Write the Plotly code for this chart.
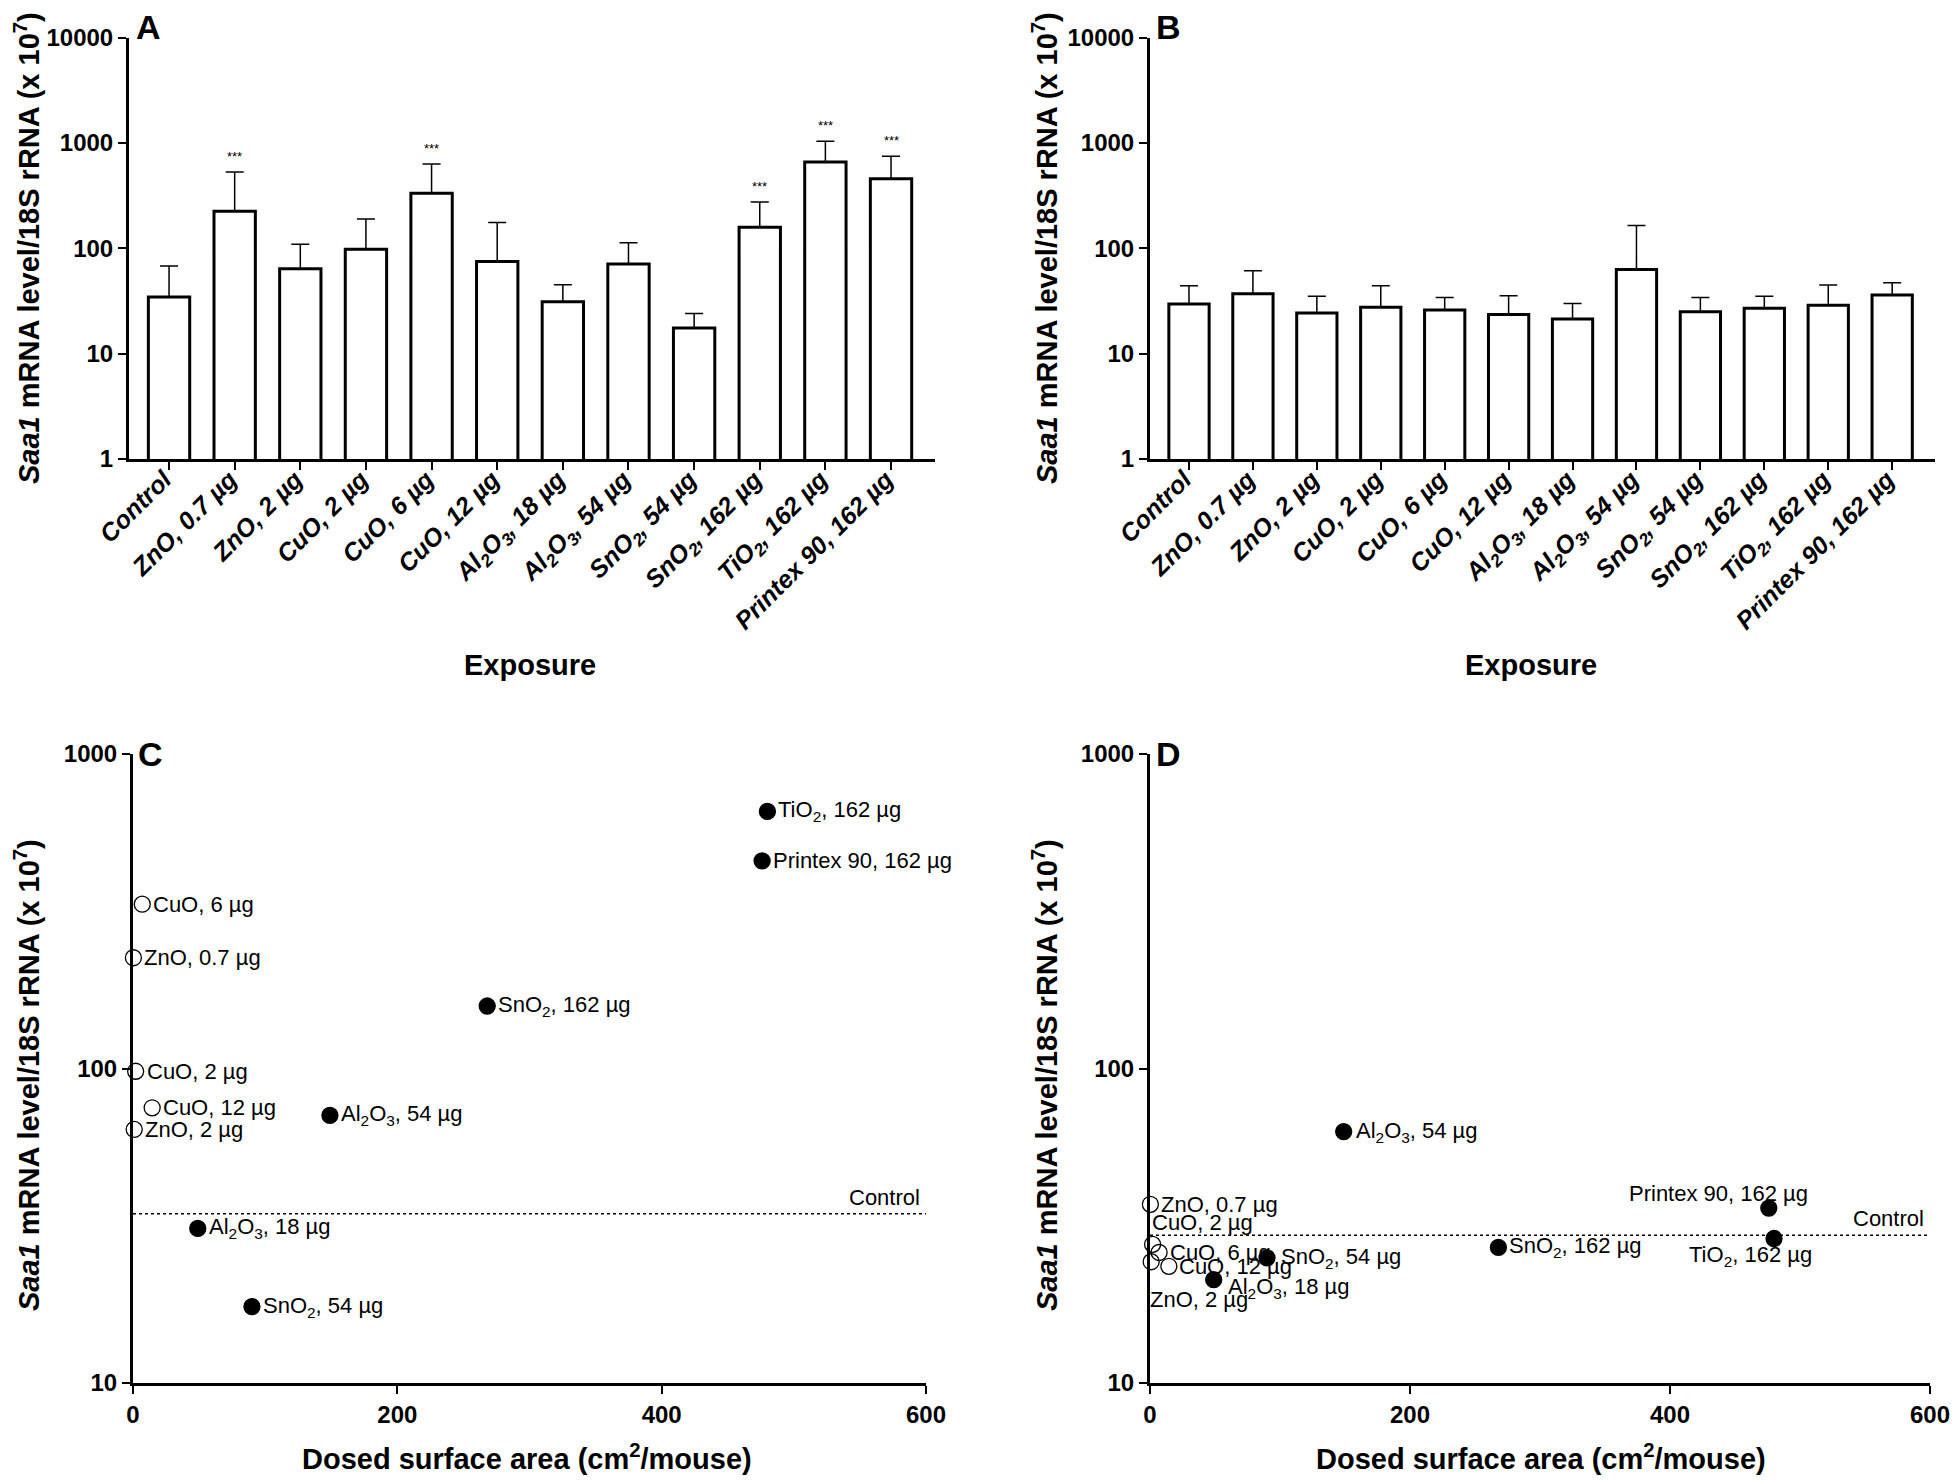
import math
import plotly.graph_objects as go
from plotly.subplots import make_subplots

# exposure groups (bar charts A and B)
exposures = ["Control", "ZnO, 0.7 µg", "ZnO, 2 µg", "CuO, 2 µg", "CuO, 6 µg", "CuO, 12 µg",
             "Al<sub>2</sub>O<sub>3</sub>, 18 µg", "Al<sub>2</sub>O<sub>3</sub>, 54 µg",
             "SnO<sub>2</sub>, 54 µg", "SnO<sub>2</sub>, 162 µg", "TiO<sub>2</sub>, 162 µg",
             "Printex 90, 162 µg"]

# panel A: mean and mean+SD
a_mean = [34.5, 225, 64, 98, 333, 75, 31, 71, 17.5, 158, 657, 457]
a_upper = [68, 529, 109, 190, 629, 176, 45, 113, 24, 274, 1037, 748]
a_sig = ["", "***", "", "", "***", "", "", "", "", "***", "***", "***"]

# panel B
b_mean = [29.5, 37, 24.3, 27.6, 26, 23.5, 21.3, 63, 25, 27, 28.8, 36]
b_upper = [44, 61, 35, 44, 34, 35.4, 29.9, 164, 34, 35, 44.8, 47]

# dosed surface area (cm2/mouse) for every exposure except Control
surface_area = [0.3, 0.9, 2.0, 7.0, 14.5, 49, 149, 90, 268, 480, 476]
open_marker = [True, True, True, True, True, False, False, False, False, False, False]

FONT = "Liberation Sans, Arial, sans-serif"

# page has an 8px body margin, so the figure is a bit smaller than the window
W, H, OFF = 1944, 1468, 8


def fx(x):
    return (x - OFF) / W


def fy(y):
    return 1 - (y - OFF) / H


fig = make_subplots(rows=2, cols=2)

# ---- bar panels ----
for col, mean, upper in [(1, a_mean, a_upper), (2, b_mean, b_upper)]:
    fig.add_trace(go.Bar(
        x=list(range(len(exposures))), y=mean, width=0.63,
        marker=dict(color="white", line=dict(color="black", width=3)),
        error_y=dict(type="data", symmetric=False,
                     array=[u - m for u, m in zip(upper, mean)],
                     arrayminus=[0] * len(mean),
                     color="black", thickness=1.5, width=9),
        showlegend=False), row=1, col=col)

# ---- scatter panels ----
for col, mean in [(1, a_mean), (2, b_mean)]:
    vals = mean[1:]
    fig.add_trace(go.Scatter(
        x=surface_area, y=vals, mode="markers", cliponaxis=False,
        marker=dict(size=16,
                    symbol=["circle-open" if o else "circle" for o in open_marker],
                    color="black", line=dict(color="black", width=1.3)),
        showlegend=False), row=2, col=col)

dom_ax = [[fx(129), fx(935)], [fx(1150), fx(1935)]]
dom_sc = [[fx(133), fx(926)], [fx(1150), fx(1930)]]
top_y = [fy(459), fy(37.5)]
bot_y = [fy(1383), fy(754)]

axis_common = dict(showline=True, linecolor="black", linewidth=3, ticks="outside",
                   ticklen=8, tickwidth=2, tickcolor="black", showgrid=False, zeroline=False,
                   mirror=False, automargin=False, ticklabeloverflow="allow")

tick_bold = dict(family=FONT, size=24, color="black", weight="bold")

for i, xa in enumerate(["xaxis", "xaxis2"]):
    fig.update_layout({xa: dict(axis_common, domain=dom_ax[i], range=[-0.61, 11.67],
                                tickmode="array", tickvals=list(range(len(exposures))),
                                ticktext=exposures, tickangle=-45,
                                ticklabelstandoff=-15, ticklabelshift=-5,
                                tickfont=dict(family=FONT, size=25, color="black",
                                              weight="bold", style="italic"))})
for i, ya in enumerate(["yaxis", "yaxis2"]):
    fig.update_layout({ya: dict(axis_common, domain=top_y, type="log", range=[0, 4],
                                tickmode="array", tickvals=[1, 10, 100, 1000, 10000],
                                ticktext=["1", "10", "100", "1000", "10000"],
                                tickfont=tick_bold)})
for i, xa in enumerate(["xaxis3", "xaxis4"]):
    fig.update_layout({xa: dict(axis_common, domain=dom_sc[i], range=[0, 600],
                                tickmode="array", tickvals=[0, 200, 400, 600],
                                tickfont=tick_bold)})
for i, ya in enumerate(["yaxis3", "yaxis4"]):
    fig.update_layout({ya: dict(axis_common, domain=bot_y, type="log", range=[1, 3],
                                tickmode="array", tickvals=[10, 100, 1000],
                                ticktext=["10", "100", "1000"], tickfont=tick_bold)})

annotations = []

# significance stars
for i, s in enumerate(a_sig):
    if s:
        annotations.append(dict(x=i, y=math.log10(a_upper[i]), xref="x", yref="y", text=s,
                                showarrow=False, yanchor="bottom", yshift=6,
                                font=dict(family=FONT, size=13, color="black")))

# control lines
for ax, ctrl in [("3", a_mean[0]), ("4", b_mean[0])]:
    fig.add_shape(type="line", xref="x" + ax, yref="y" + ax, x0=0, x1=600, y0=ctrl, y1=ctrl,
                  line=dict(color="black", width=1.5, dash="dot"))
    annotations.append(dict(x=600, y=math.log10(ctrl), xref="x" + ax, yref="y" + ax,
                            text="Control", showarrow=False, xanchor="right", yanchor="bottom",
                            xshift=-4, yshift=2, font=dict(family=FONT, size=22, color="black")))

labels = exposures[1:]
label_font = dict(family=FONT, size=22, color="black")
# panel C labels: right of each point
for x, y, t in zip(surface_area, a_mean[1:], labels):
    annotations.append(dict(x=x, y=math.log10(y), xref="x3", yref="y3", text=t, showarrow=False,
                            xanchor="left", yanchor="middle", xshift=9, font=label_font))

# panel D labels: shifted to avoid overlap (xanchor, xshift, yshift)
d_offsets = [("left", 9, 0), ("left", -3, -38), ("left", -3, 22), ("left", 9, 0),
             ("left", 8, 0), ("left", 12, -8), ("left", 10, 0), ("left", 12, 0),
             ("left", 9, 0), ("center", -24, -17), ("center", -50, 15)]
for (x, y, t), (anc, dx, dy) in zip(zip(surface_area, b_mean[1:], labels), d_offsets):
    annotations.append(dict(x=x, y=math.log10(y), xref="x4", yref="y4", text=t, showarrow=False,
                            xanchor=anc, yanchor="middle", xshift=dx, yshift=dy, font=label_font))

# panel letters
for txt, x, y in [("A", 148, 27), ("B", 1168, 27), ("C", 150, 754), ("D", 1168, 754)]:
    annotations.append(dict(x=fx(x), y=fy(y), xref="paper", yref="paper", text=txt,
                            showarrow=False, xanchor="center", yanchor="middle",
                            font=dict(family=FONT, size=34, color="black", weight="bold")))

ytitle = "<i>Saa1</i> mRNA level/18S rRNA (x 10<sup>7</sup>)"
for x, y in [(27, 248), (1045, 248), (27, 1075), (1045, 1075)]:
    annotations.append(dict(x=fx(x), y=fy(y), xref="paper", yref="paper", text=ytitle,
                            textangle=-90, showarrow=False, xanchor="center", yanchor="middle",
                            font=dict(family=FONT, size=29, color="black", weight="bold")))

for txt, x, y in [("Exposure", 530, 665), ("Exposure", 1531, 665),
                  ("Dosed surface area (cm<sup>2</sup>/mouse)", 527, 1457),
                  ("Dosed surface area (cm<sup>2</sup>/mouse)", 1541, 1457)]:
    annotations.append(dict(x=fx(x), y=fy(y), xref="paper", yref="paper", text=txt,
                            showarrow=False, xanchor="center", yanchor="middle",
                            font=dict(family=FONT, size=29, color="black", weight="bold")))

fig.update_layout(width=W, height=H, margin=dict(l=0, r=0, t=0, b=0),
                  plot_bgcolor="white", paper_bgcolor="white", annotations=annotations,
                  font=dict(family=FONT, color="black"))

fig.write_html("out.html")
